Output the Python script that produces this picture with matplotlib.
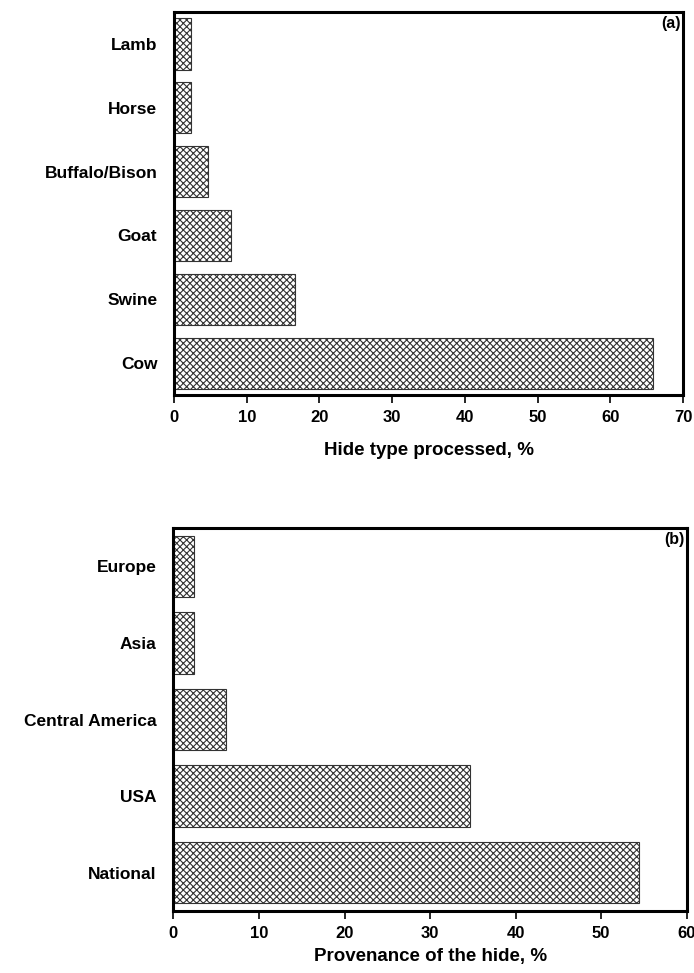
import matplotlib
matplotlib.use("Agg")
import matplotlib.pyplot as plt

# --- DATA ---------------------------------------------------------------
hide_types = ["Cow", "Swine", "Goat", "Buffalo/Bison", "Horse", "Lamb"]
hide_pct = [65.9, 16.7, 7.9, 4.7, 2.4, 2.4]

origins = ["National", "USA", "Central America", "Asia", "Europe"]
origin_pct = [54.4, 34.7, 6.1, 2.4, 2.4]

plt.rcParams["font.family"] = ["Liberation Sans", "DejaVu Sans"]
plt.rcParams["font.weight"] = "bold"
plt.rcParams["hatch.linewidth"] = 0.8

fig = plt.figure(figsize=(6.94, 9.73), dpi=100)
ax_a = fig.add_axes([0.2507, 0.594, 0.7335, 0.3936])
ax_b = fig.add_axes([0.2499, 0.0637, 0.7396, 0.3936])


def draw_panel(ax, cats, vals, xmax, xlabel, tag, lpad):
    y = list(range(len(cats)))
    ax.barh(y, vals, height=0.8, color="white", edgecolor="#333333",
            linewidth=0.8, hatch="xxxxx")
    ax.set_yticks(y)
    ax.set_yticklabels(cats, fontsize=12.5, fontweight="bold")
    ax.set_ylim(-0.5, len(cats) - 0.5)
    ax.set_xlim(0, xmax)
    ax.set_xticks(range(0, xmax + 1, 10))
    ax.tick_params(axis="y", length=0, pad=12)
    ax.tick_params(axis="x", direction="out", length=6, width=1.2,
                   labelsize=12, pad=5)
    for lab in ax.get_xticklabels():
        lab.set_fontweight("bold")
    ax.set_xlabel(xlabel, fontsize=13.5, fontweight="bold", labelpad=lpad)
    for s in ax.spines.values():
        s.set_linewidth(2.2)
    ax.text(0.995, 0.99, tag, transform=ax.transAxes, ha="right", va="top",
            fontsize=11.5, fontweight="bold")


draw_panel(ax_a, hide_types, hide_pct, 70, "Hide type processed, %", "(a)", 12)
# bottom label sits right at the lower edge in the source; keep it inside
draw_panel(ax_b, origins, origin_pct, 60, "Provenance of the hide, %", "(b)", 5)

fig.savefig("out.png", dpi=100)
